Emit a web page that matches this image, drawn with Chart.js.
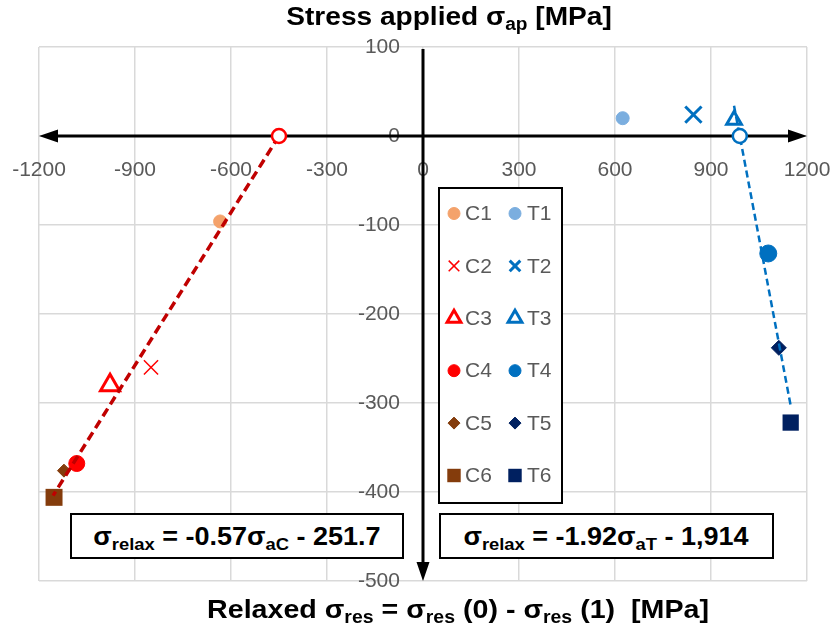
<!DOCTYPE html>
<html>
<head>
<meta charset="utf-8">
<title>Relaxed residual stress vs applied stress</title>
<script src="https://cdn.jsdelivr.net/npm/chart.js@4.4.0/dist/chart.umd.min.js"></script>
<style>
  html, body { margin: 0; padding: 0; background: #fff; }
  #wrap { position: relative; width: 833px; height: 633px; overflow: hidden; }
  #chart { position: absolute; left: 0; top: 0; }
  .lbl {
    position: absolute;
    font-family: "Liberation Sans", Arial, sans-serif;
    font-weight: bold;
    color: #000;
    white-space: nowrap;
    line-height: 1;
  }
  .lbl sub { font-size: 0.68em; vertical-align: -0.3em; line-height: 0; }
  .axis-title { font-size: 26px; transform: translateX(-50%) scaleX(1.08); }
  .eq {
    position: absolute;
    box-sizing: border-box;
    border: 2px solid #000;
    background: #fff;
    display: flex;
    align-items: center;
    justify-content: center;
  }
  .eq span { font-size: 25px; transform: scaleX(1.08); position: static; }
</style>
</head>
<body>
<div id="wrap">
  <canvas id="chart" width="833" height="633"></canvas>
  <div class="lbl axis-title" style="left:449px; top:3px;">Stress applied σ<sub>ap</sub> [MPa]</div>
  <div class="lbl axis-title" style="left:458px; top:596px; font-size:26.5px;">Relaxed σ<sub>res</sub> = σ<sub>res</sub> (0) - σ<sub>res</sub> (1)&nbsp; [MPa]</div>
  <div class="eq" style="left:70px; top:513px; width:334px; height:46px;">
    <span class="lbl">σ<sub>relax</sub> = -0.57σ<sub>aC</sub> - 251.7</span>
  </div>
  <div class="eq" style="left:439px; top:513px; width:335px; height:46px;">
    <span class="lbl">σ<sub>relax</sub> = -1.92σ<sub>aT</sub> - 1,914</span>
  </div>
</div>

<script>
// Axis ticks
const xTicks = [-1200, -900, -600, -300, 0, 300, 600, 900, 1200];
const yTicks = [100, 0, -100, -200, -300, -400, -500];

// Compression samples: relaxed stress (x) vs applied stress (y), MPa
const compLabels = ['C1', 'C2', 'C3', 'C4', 'C5', 'C6'];
const compRelaxed = [-634, -850, -978, -1082, -1122, -1153];
const compApplied = [-96, -260, -280, -368, -376, -406];

// Tension samples
const tensLabels = ['T1', 'T2', 'T3', 'T4', 'T5', 'T6'];
const tensRelaxed = [624, 845, 972, 1079, 1112, 1149];
const tensApplied = [20, 24, 18, -132, -238, -322];

// Linear fits (end points) and their zero-load intercepts
const compFitX = [-450, -1156];
const compFitY = [0, -404];
const tensFitX = [972, 1149];
const tensFitY = [34, -303];
const interceptX = [-450, 990];

const GRAY = '#595959';
const RED = '#FF0000';
const BLUE = '#0070C0';
const BROWN = '#843C0C';
const NAVY = '#002060';

// marker look for each sample, in the same order as the labels
const compStyles = [
  { shape: 'circle',   r: 6.5, lr: 6,   fill: '#F4A26B', line: '#F4A26B', w: 1 },
  { shape: 'crossRot', r: 10,  lr: 7.5, fill: RED,       line: RED,       w: 1.5 },
  { shape: 'triangle', r: 11,  lr: 8,   fill: 'rgba(255,255,255,0)', line: RED, w: 3 },
  { shape: 'circle',   r: 8,   lr: 6,   fill: RED,       line: RED,       w: 1 },
  { shape: 'rectRot',  r: 6.5, lr: 6,   fill: BROWN,     line: BROWN,     w: 1 },
  { shape: 'rect',     r: 12,  lr: 9.5, fill: BROWN,     line: BROWN,     w: 0 }
];
const tensStyles = [
  { shape: 'circle',   r: 6.5, lr: 6,   fill: '#7BAEDF', line: '#7BAEDF', w: 1 },
  { shape: 'crossRot', r: 11.5, lr: 7.5, fill: BLUE,     line: BLUE,      w: 3 },
  { shape: 'triangle', r: 8.5, lr: 8,   fill: 'rgba(255,255,255,0)', line: BLUE, w: 3 },
  { shape: 'circle',   r: 8.5, lr: 6,   fill: BLUE,      line: BLUE,      w: 1 },
  { shape: 'rectRot',  r: 7.5, lr: 6,   fill: NAVY,      line: NAVY,      w: 1 },
  { shape: 'rect',     r: 11.5, lr: 9.5, fill: NAVY,     line: NAVY,      w: 0 }
];

function markerSet(label, x, y, st) {
  return {
    label: label,
    data: [{ x: x, y: y }],
    pointStyle: st.shape,
    pointRadius: st.r,
    pointHoverRadius: st.r,
    backgroundColor: st.fill,
    borderColor: st.line,
    pointBorderWidth: st.w,
    legendRadius: st.lr,
    order: 3
  };
}

function fitSet(xs, ys, color, width, dash) {
  return {
    label: 'fit',
    data: xs.map((x, i) => ({ x: x, y: ys[i] })),
    showLine: true,
    borderColor: color,
    borderWidth: width,
    borderDash: dash,
    pointRadius: 0,
    order: 2
  };
}

const datasets = [];
compLabels.forEach((l, i) => datasets.push(markerSet(l, compRelaxed[i], compApplied[i], compStyles[i])));
tensLabels.forEach((l, i) => datasets.push(markerSet(l, tensRelaxed[i], tensApplied[i], tensStyles[i])));
datasets.push(fitSet(compFitX, compFitY, '#C00000', 3.5, [9, 5]));
datasets.push(fitSet(tensFitX, tensFitY, BLUE, 2.5, [7, 4]));
datasets.push({
  label: 'intercept C',
  data: [{ x: interceptX[0], y: 0 }],
  pointStyle: 'circle', pointRadius: 7, pointBorderWidth: 2.5,
  backgroundColor: '#fff', borderColor: RED, order: 1
});
datasets.push({
  label: 'intercept T',
  data: [{ x: interceptX[1], y: 0 }],
  pointStyle: 'circle', pointRadius: 7, pointBorderWidth: 2.5,
  backgroundColor: '#fff', borderColor: BLUE, order: 1
});

// black axes through the origin with arrow heads
const arrowAxes = {
  id: 'arrowAxes',
  beforeDatasetsDraw(chart) {
    const { ctx, scales: { x, y } } = chart;
    const x0 = x.getPixelForValue(0);
    const y0 = y.getPixelForValue(0);
    const xl = x.getPixelForValue(xTicks[0]);
    const xr = x.getPixelForValue(xTicks[xTicks.length - 1]);
    const yt = y.getPixelForValue(yTicks[0]) + 2;
    const yb = y.getPixelForValue(yTicks[yTicks.length - 1]);
    const len = 19, half = 6.5;
    ctx.save();
    ctx.strokeStyle = '#000';
    ctx.fillStyle = '#000';
    ctx.lineWidth = 3;
    ctx.beginPath();
    ctx.moveTo(xl + len - 2, y0);
    ctx.lineTo(xr - len + 2, y0);
    ctx.moveTo(x0, yt);
    ctx.lineTo(x0, yb - len + 2);
    ctx.stroke();
    ctx.beginPath();
    ctx.moveTo(xl, y0); ctx.lineTo(xl + len, y0 - half); ctx.lineTo(xl + len, y0 + half); ctx.closePath();
    ctx.moveTo(xr, y0); ctx.lineTo(xr - len, y0 - half); ctx.lineTo(xr - len, y0 + half); ctx.closePath();
    ctx.moveTo(x0, yb); ctx.lineTo(x0 - half, yb - len); ctx.lineTo(x0 + half, yb - len); ctx.closePath();
    ctx.fill();
    ctx.restore();
  }
};

// two-column boxed legend: compression left, tension right
const sampleLegend = {
  id: 'sampleLegend',
  afterDraw(chart) {
    const ctx = chart.ctx;
    const box = { left: 439, top: 188, width: 123, height: 315 };
    ctx.save();
    ctx.fillStyle = '#fff';
    ctx.fillRect(box.left, box.top, box.width, box.height);
    ctx.strokeStyle = '#000';
    ctx.lineWidth = 2;
    ctx.strokeRect(box.left, box.top, box.width, box.height);
    ctx.font = '21px "Liberation Sans", Arial, sans-serif';
    ctx.textBaseline = 'middle';
    ctx.textAlign = 'left';
    const cols = [{ names: compLabels, mark: 454, text: 465 }, { names: tensLabels, mark: 515, text: 527 }];
    cols.forEach(col => {
      col.names.forEach((name, row) => {
        const ds = chart.data.datasets.find(d => d.label === name);
        const cy = 213.5 + row * 52.4;
        ctx.fillStyle = ds.backgroundColor;
        ctx.strokeStyle = ds.borderColor;
        ctx.lineWidth = ds.pointBorderWidth;
        Chart.helpers.drawPoint(ctx, {
          pointStyle: ds.pointStyle,
          radius: ds.legendRadius,
          borderWidth: ds.pointBorderWidth,
          rotation: 0
        }, col.mark, cy);
        ctx.fillStyle = GRAY;
        ctx.fillText(name, col.text, cy + 1);
      });
    });
    ctx.restore();
  }
};

const tickFont = { family: '"Liberation Sans", Arial, sans-serif', size: 21 };
const plainLabel = v => String(v);

new Chart(document.getElementById('chart'), {
  type: 'scatter',
  data: { datasets: datasets },
  options: {
    responsive: false,
    animation: false,
    layout: { padding: { left: 39, right: 26, top: 47, bottom: 52 } },
    plugins: { legend: { display: false }, tooltip: { enabled: false } },
    scales: {
      x: {
        type: 'linear',
        min: xTicks[0],
        max: xTicks[xTicks.length - 1],
        position: { y: 0 },
        afterBuildTicks: s => { s.ticks = xTicks.map(v => ({ value: v })); },
        afterFit: s => { s.height = 0; s.paddingLeft = 0; s.paddingRight = 0; },
        ticks: { color: GRAY, font: tickFont, padding: 22, maxRotation: 0, autoSkip: false, callback: plainLabel },
        grid: { color: '#D9D9D9', lineWidth: 1.5, drawTicks: false },
        border: { display: false }
      },
      y: {
        type: 'linear',
        min: yTicks[yTicks.length - 1],
        max: yTicks[0],
        // value labels end a little left of the vertical axis line
        position: { x: -72 },
        afterBuildTicks: s => { s.ticks = yTicks.map(v => ({ value: v })); },
        afterFit: s => { s.width = 0; s.paddingTop = 0; s.paddingBottom = 0; },
        ticks: { color: GRAY, font: tickFont, autoSkip: false, callback: plainLabel },
        grid: { color: '#D9D9D9', lineWidth: 1.5, drawTicks: false },
        border: { display: false }
      }
    }
  },
  plugins: [arrowAxes, sampleLegend]
});
</script>
</body>
</html>
